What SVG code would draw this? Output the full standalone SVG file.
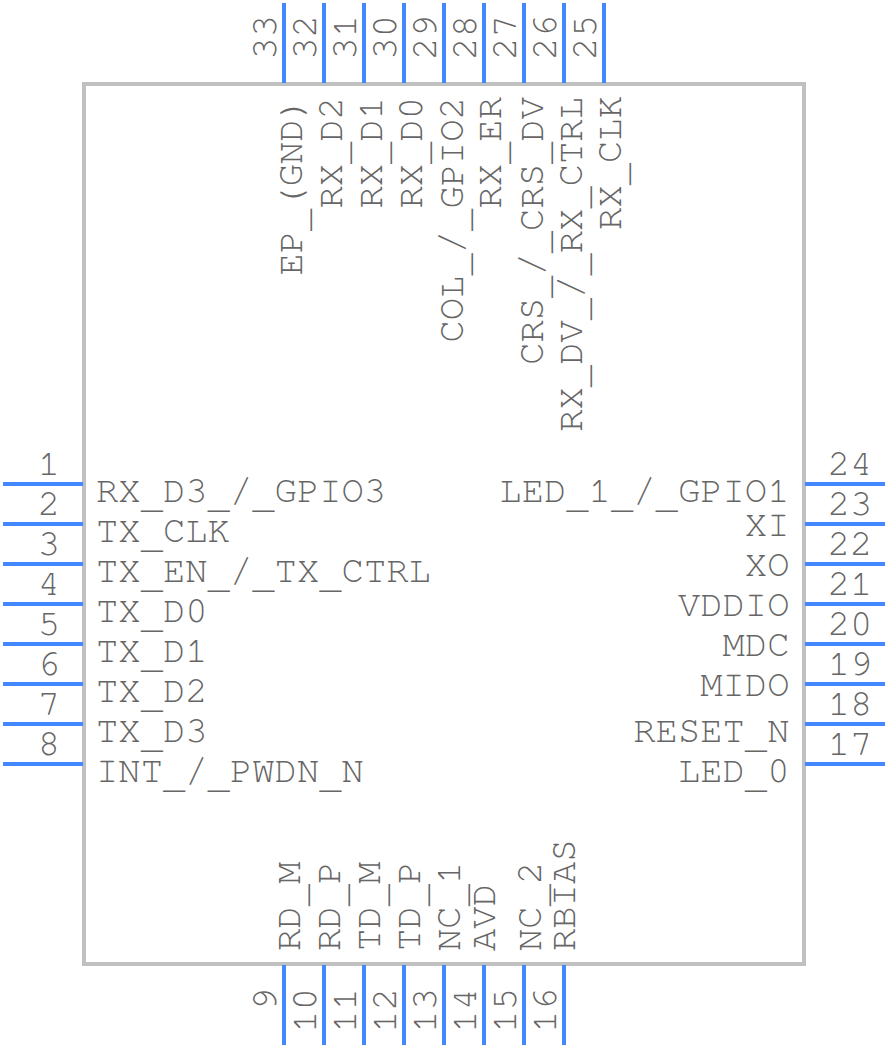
<svg xmlns="http://www.w3.org/2000/svg" width="888" height="1048" viewBox="0 0 888 1048">
<style>
text{font-family:"FreeMono","Liberation Mono",monospace;font-size:37.2px;fill:#666}
.e{text-anchor:end}.m{text-anchor:middle}
.p{stroke:#4488ff;stroke-width:4;fill:none}
</style>
<rect width="888" height="1048" fill="#fff"/>
<g id="body"><rect x="84" y="84" width="720" height="880" fill="none" stroke="#c0c0c0" stroke-width="4"/></g>
<g id="connectors">
<path class="p" d="M3 484H83M3 524H83M3 564H83M3 604H83M3 644H83M3 684H83M3 724H83M3 764H83"/>
<path class="p" d="M805 484H885M805 524H885M805 564H885M805 604H885M805 644H885M805 684H885M805 724H885M805 764H885"/>
<path class="p" d="M284 3V83M324 3V83M364 3V83M404 3V83M444 3V83M484 3V83M524 3V83M564 3V83M604 3V83"/>
<path class="p" d="M284 965V1045M324 965V1045M364 965V1045M404 965V1045M444 965V1045M484 965V1045M524 965V1045M564 965V1045"/>
</g>
<g id="pin1"><text class="m" transform="translate(49 475)">1</text><text transform="translate(96 501.5)">RX<tspan dy="6">_</tspan><tspan dy="-6">D3</tspan><tspan dy="6">_</tspan><tspan dy="-6">/</tspan><tspan dy="6">_</tspan><tspan dy="-6">GPIO3</tspan></text></g>
<g id="pin2"><text class="m" transform="translate(49 515)">2</text><text transform="translate(96 541.5)">TX<tspan dy="6">_</tspan><tspan dy="-6">CLK</tspan></text></g>
<g id="pin3"><text class="m" transform="translate(49 555)">3</text><text transform="translate(96 581.5)">TX<tspan dy="6">_</tspan><tspan dy="-6">EN</tspan><tspan dy="6">_</tspan><tspan dy="-6">/</tspan><tspan dy="6">_</tspan><tspan dy="-6">TX</tspan><tspan dy="6">_</tspan><tspan dy="-6">CTRL</tspan></text></g>
<g id="pin4"><text class="m" transform="translate(49 595)">4</text><text transform="translate(96 621.5)">TX<tspan dy="6">_</tspan><tspan dy="-6">D0</tspan></text></g>
<g id="pin5"><text class="m" transform="translate(49 635)">5</text><text transform="translate(96 661.5)">TX<tspan dy="6">_</tspan><tspan dy="-6">D1</tspan></text></g>
<g id="pin6"><text class="m" transform="translate(49 675)">6</text><text transform="translate(96 701.5)">TX<tspan dy="6">_</tspan><tspan dy="-6">D2</tspan></text></g>
<g id="pin7"><text class="m" transform="translate(49 715)">7</text><text transform="translate(96 741.5)">TX<tspan dy="6">_</tspan><tspan dy="-6">D3</tspan></text></g>
<g id="pin8"><text class="m" transform="translate(49 755)">8</text><text transform="translate(96 781.5)">INT<tspan dy="6">_</tspan><tspan dy="-6">/</tspan><tspan dy="6">_</tspan><tspan dy="-6">PWDN</tspan><tspan dy="6">_</tspan><tspan dy="-6">N</tspan></text></g>
<g id="pin24"><text class="m" transform="translate(850 475)">24</text><text class="e" transform="translate(789.5 501.5)">LED<tspan dy="6">_</tspan><tspan dy="-6">1</tspan><tspan dy="6">_</tspan><tspan dy="-6">/</tspan><tspan dy="6">_</tspan><tspan dy="-6">GPIO1</tspan></text></g>
<g id="pin23"><text class="m" transform="translate(850 515)">23</text><text class="e" transform="translate(789.5 535.5)">XI</text></g>
<g id="pin22"><text class="m" transform="translate(850 555)">22</text><text class="e" transform="translate(789.5 575.5)">XO</text></g>
<g id="pin21"><text class="m" transform="translate(850 595)">21</text><text class="e" transform="translate(789.5 615.5)">VDDIO</text></g>
<g id="pin20"><text class="m" transform="translate(850 635)">20</text><text class="e" transform="translate(789.5 655.5)">MDC</text></g>
<g id="pin19"><text class="m" transform="translate(850 675)">19</text><text class="e" transform="translate(789.5 695.5)">MIDO</text></g>
<g id="pin18"><text class="m" transform="translate(850 715)">18</text><text class="e" transform="translate(789.5 741.5)">RESET<tspan dy="6">_</tspan><tspan dy="-6">N</tspan></text></g>
<g id="pin17"><text class="m" transform="translate(850 755)">17</text><text class="e" transform="translate(789.5 781.5)">LED<tspan dy="6">_</tspan><tspan dy="-6">0</tspan></text></g>
<g id="pin33"><text class="e" transform="translate(276 15) rotate(-90)">33</text><text class="e" transform="translate(302 97) rotate(-90)">EP<tspan dy="6">_</tspan><tspan dy="-6">(GND)</tspan></text></g>
<g id="pin32"><text class="e" transform="translate(316 15) rotate(-90)">32</text><text class="e" transform="translate(342 97) rotate(-90)">RX<tspan dy="6">_</tspan><tspan dy="-6">D2</tspan></text></g>
<g id="pin31"><text class="e" transform="translate(356 15) rotate(-90)">31</text><text class="e" transform="translate(382 97) rotate(-90)">RX<tspan dy="6">_</tspan><tspan dy="-6">D1</tspan></text></g>
<g id="pin30"><text class="e" transform="translate(396 15) rotate(-90)">30</text><text class="e" transform="translate(422 97) rotate(-90)">RX<tspan dy="6">_</tspan><tspan dy="-6">D0</tspan></text></g>
<g id="pin29"><text class="e" transform="translate(436 15) rotate(-90)">29</text><text class="e" transform="translate(462.5 97) rotate(-90)">COL<tspan dy="6">_</tspan><tspan dy="-6">/</tspan><tspan dy="6">_</tspan><tspan dy="-6">GPIO2</tspan></text></g>
<g id="pin28"><text class="e" transform="translate(476 15) rotate(-90)">28</text><text class="e" transform="translate(501 97) rotate(-90)">RX<tspan dy="6">_</tspan><tspan dy="-6">ER</tspan></text></g>
<g id="pin27"><text class="e" transform="translate(516 15) rotate(-90)">27</text><text class="e" transform="translate(542.5 97) rotate(-90)">CRS<tspan dy="6">_</tspan><tspan dy="-6">/</tspan><tspan dy="6">_</tspan><tspan dy="-6">CRS</tspan><tspan dy="6">_</tspan><tspan dy="-6">DV</tspan></text></g>
<g id="pin26"><text class="e" transform="translate(556 15) rotate(-90)">26</text><text class="e" transform="translate(582 97) rotate(-90)">RX<tspan dy="6">_</tspan><tspan dy="-6">DV</tspan><tspan dy="6">_</tspan><tspan dy="-6">/</tspan><tspan dy="6">_</tspan><tspan dy="-6">RX</tspan><tspan dy="6">_</tspan><tspan dy="-6">CTRL</tspan></text></g>
<g id="pin25"><text class="e" transform="translate(596 15) rotate(-90)">25</text><text class="e" transform="translate(621 96) rotate(-90)">RX<tspan dy="6">_</tspan><tspan dy="-6">CLK</tspan></text></g>
<g id="pin9"><text class="e" transform="translate(276 988) rotate(-90)">9</text><text transform="translate(300 951) rotate(-90)">RD<tspan dy="6">_</tspan><tspan dy="-6">M</tspan></text></g>
<g id="pin10"><text class="e" transform="translate(316 988) rotate(-90)">10</text><text transform="translate(340 951) rotate(-90)">RD<tspan dy="6">_</tspan><tspan dy="-6">P</tspan></text></g>
<g id="pin11"><text class="e" transform="translate(356 988) rotate(-90)">11</text><text transform="translate(380 951) rotate(-90)">TD<tspan dy="6">_</tspan><tspan dy="-6">M</tspan></text></g>
<g id="pin12"><text class="e" transform="translate(396 988) rotate(-90)">12</text><text transform="translate(420 951) rotate(-90)">TD<tspan dy="6">_</tspan><tspan dy="-6">P</tspan></text></g>
<g id="pin13"><text class="e" transform="translate(436 988) rotate(-90)">13</text><text transform="translate(460 951) rotate(-90)">NC<tspan dy="6">_</tspan><tspan dy="-6">1</tspan></text></g>
<g id="pin14"><text class="e" transform="translate(476 988) rotate(-90)">14</text><text transform="translate(495 951) rotate(-90)">AVD</text></g>
<g id="pin15"><text class="e" transform="translate(516 988) rotate(-90)">15</text><text transform="translate(541 951) rotate(-90)">NC<tspan dy="6">_</tspan><tspan dy="-6">2</tspan></text></g>
<g id="pin16"><text class="e" transform="translate(556 988) rotate(-90)">16</text><text transform="translate(575 951) rotate(-90)">RBIAS</text></g>
</svg>
